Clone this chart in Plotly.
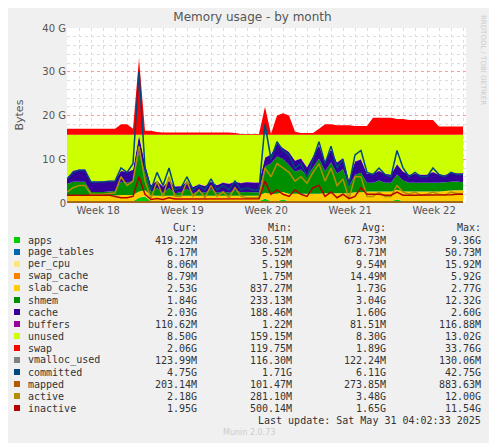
import plotly.graph_objects as go

# days since start of the month window, one sample every half day
days = [i * 0.5 for i in range(67)]

# stacked areas, values in GB
apps = [0.4, 0.4, 0.4, 0.4, 0.4, 0.4, 0.4, 0.4, 0.4, 0.4, 0.4, 0.4, 1.2, 1.5, 0.4, 0.4, 0.4, 0.4, 0.4, 0.4,
        0.4, 0.4, 0.4, 0.4, 0.4, 0.4, 0.4, 0.4, 0.4, 0.4, 0.4, 0.4, 0.4, 1.0, 0.4, 0.4, 0.8, 0.4, 0.4, 0.4,
        0.4, 0.4, 0.4, 0.4, 0.4, 0.4, 0.4, 0.4, 0.4, 0.4, 0.4, 0.4, 0.4, 0.4, 0.4, 0.8, 0.4, 0.4, 0.4, 0.4,
        0.4, 0.4, 0.4, 0.4, 0.4, 0.4, 0.4]
page_tables = [0.01] * 67
per_cpu = [0.01] * 67
swap_cache = [0.02] * 67
slab_cache = [1.4, 1.4, 1.4, 1.4, 1.3, 1.3, 1.3, 1.3, 1.3, 1.4, 1.4, 1.4, 1.4, 1.4, 1.3, 1.2, 1.2, 1.2, 1.2, 1.2,
              1.2, 1.2, 1.2, 1.2, 1.2, 1.2, 1.2, 1.2, 1.2, 1.2, 1.2, 1.2, 1.2, 1.3, 1.6, 1.7, 1.7, 1.7, 1.7, 1.7,
              1.7, 1.7, 1.7, 1.8, 1.8, 1.8, 1.8, 1.8, 2.0, 2.0, 2.2, 2.2, 2.2, 2.2, 2.2, 2.2, 2.2, 2.2, 2.2, 2.2,
              2.2, 2.2, 2.2, 2.3, 2.4, 2.5, 2.5]
shmem = [2.5, 3.0, 3.0, 3.0, 0.8, 0.8, 0.8, 0.9, 1.0, 3.0, 2.8, 3.2, 9.0, 4.0, 0.8, 1.8, 0.6, 1.8, 0.6, 0.8,
         1.6, 0.6, 1.0, 0.7, 1.5, 0.7, 1.0, 0.7, 1.2, 0.8, 0.9, 0.8, 0.8, 6.0, 7.0, 8.5, 7.5, 6.5, 5.0, 5.5,
         4.0, 6.0, 8.0, 5.0, 7.0, 4.5, 5.5, 1.5, 4.0, 4.5, 2.0, 2.0, 2.5, 2.0, 2.0, 3.5, 2.5, 2.0, 2.0, 2.0,
         2.0, 2.0, 2.0, 2.0, 2.0, 2.0, 1.8]
cache = [1.2, 2.5, 2.8, 2.8, 2.3, 2.3, 2.4, 2.4, 2.3, 2.5, 2.4, 2.5, 3.8, 2.0, 1.5, 1.6, 1.5, 1.6, 1.5, 1.4,
         1.6, 1.4, 1.6, 1.5, 1.7, 1.7, 2.0, 2.0, 2.0, 2.1, 2.2, 2.2, 2.2, 2.0, 2.0, 3.0, 2.5, 3.0, 2.5, 2.5,
         2.0, 2.5, 3.0, 2.2, 3.0, 2.5, 2.5, 1.5, 3.0, 3.0, 2.0, 2.0, 2.2, 2.0, 1.8, 2.3, 2.0, 1.8, 2.0, 1.8,
         1.8, 2.4, 1.8, 1.6, 2.0, 1.8, 2.0]
buffers = [0.1] * 67
unused = [9.96, 8.16, 7.86, 7.86, 10.66, 10.66, 10.56, 10.46, 10.46, 8.16, 8.46, 7.96, 0.06, 6.56, 11.46,
          10.46, 11.76, 10.46, 11.76, 11.66, 10.66, 11.86, 11.26, 11.66, 10.66, 11.46, 10.86, 11.16, 10.66,
          10.96, 10.76, 10.86, 10.86, 5.16, 4.46, 1.86, 2.96, 3.86, 5.86, 5.36, 7.36, 4.86, 2.36, 6.06, 3.26,
          6.26, 5.26, 10.26, 6.06, 5.56, 8.86, 8.86, 8.16, 8.86, 9.06, 6.66, 8.36, 9.06, 8.86, 9.06, 9.06,
          8.46, 9.06, 9.16, 8.66, 8.76, 8.76]
swap = [1.4, 1.4, 1.4, 1.4, 1.4, 1.4, 1.4, 1.4, 1.4, 2.4, 2.4, 1.4, 17.4, 0.9, 0.9, 0.6, 0.5, 0.5, 0.5, 0.5,
        0.5, 0.5, 0.5, 0.5, 0.5, 0.5, 0.5, 0.5, 0.4, 0.2, 0.2, 0.2, 0.2, 6.4, 0.2, 4.4, 4.9, 4.4, 0.7, 0.4,
        0.4, 0.4, 1.4, 2.4, 2.4, 2.2, 2.2, 2.2, 2.0, 2.0, 2.0, 3.9, 3.9, 3.9, 3.9, 3.6, 3.6, 3.4, 3.4, 3.4,
        3.4, 3.4, 1.9, 1.9, 1.9, 1.9, 1.9]

# lines, values in GB
vmalloc_used = [0.12] * 67
committed = [5.5, 7.0, 7.5, 7.5, 4.8, 4.8, 4.8, 5.0, 5.0, 8.0, 7.0, 9.0, 30.0, 8.0, 3.0, 7.0, 4.0, 8.0, 3.0, 3.5,
             6.0, 3.0, 4.0, 3.0, 5.5, 3.0, 4.0, 3.0, 5.0, 3.0, 3.5, 3.0, 3.0, 18.0, 10.0, 14.0, 12.0, 11.0, 8.0,
             9.0, 6.0, 10.0, 14.0, 9.0, 13.0, 8.0, 10.0, 4.0, 11.0, 12.0, 7.0, 6.5, 8.0, 6.5, 6.0, 12.0, 8.0,
             6.0, 7.0, 6.0, 6.0, 8.0, 6.5, 6.0, 7.0, 6.5, 6.5]
mapped = [0.25] * 67
active = [2.5, 3.5, 4.0, 4.0, 2.0, 2.0, 2.0, 2.2, 2.3, 6.0, 4.0, 5.0, 13.0, 5.0, 1.0, 5.0, 1.5, 6.0, 1.5, 1.5,
          5.0, 1.5, 3.0, 1.2, 4.0, 1.5, 2.5, 1.2, 3.5, 1.5, 1.2, 1.2, 1.2, 8.0, 6.0, 9.0, 8.0, 7.0, 5.0, 6.0,
          4.5, 7.0, 9.0, 5.0, 8.0, 4.0, 5.5, 1.0, 6.0, 6.0, 1.5, 1.5, 2.5, 1.5, 1.5, 4.0, 2.5, 2.0, 2.5, 1.8,
          2.0, 2.5, 2.0, 1.8, 2.5, 2.2, 2.2]
inactive = [1.8, 1.8, 1.8, 1.8, 1.8, 1.8, 1.8, 1.8, 1.5, 1.2, 1.2, 1.5, 6.0, 2.0, 0.8, 1.0, 0.8, 1.2, 0.9, 0.9,
            1.0, 0.9, 1.0, 0.9, 1.0, 0.9, 1.0, 0.9, 1.0, 1.0, 1.0, 1.0, 1.0, 5.0, 2.0, 3.0, 2.0, 1.5, 3.0, 2.0,
            1.5, 3.5, 4.0, 1.5, 2.5, 1.2, 2.0, 1.0, 1.5, 3.5, 2.0, 2.0, 2.0, 1.8, 1.8, 2.5, 1.8, 1.8, 1.8, 1.8,
            1.8, 1.8, 1.9, 1.9, 1.9, 2.0, 2.0]

week_pos = [2.6, 9.6, 16.6, 23.6, 30.6]
week_labels = ['Week 18', 'Week 19', 'Week 20', 'Week 21', 'Week 22']

# legend table
names = ['apps', 'page_tables', 'per_cpu', 'swap_cache', 'slab_cache', 'shmem', 'cache', 'buffers',
         'unused', 'swap', 'vmalloc_used', 'committed', 'mapped', 'active', 'inactive']
cur = ['419.22M', '6.17M', '8.06M', '8.79M', '2.53G', '1.84G', '2.03G', '110.62M', '8.50G', '2.06G',
       '123.99M', '4.75G', '203.14M', '2.18G', '1.95G']
mins = ['330.51M', '5.52M', '5.19M', '1.75M', '837.27M', '233.13M', '188.46M', '1.22M', '159.15M',
        '119.75M', '116.30M', '1.71G', '101.47M', '281.10M', '500.14M']
avgs = ['673.73M', '8.71M', '9.54M', '14.49M', '1.73G', '3.04G', '1.60G', '81.51M', '8.30G', '1.89G',
        '122.24M', '6.11G', '273.85M', '3.48G', '1.65G']
maxs = ['9.36G', '50.73M', '15.92M', '5.92G', '2.77G', '12.32G', '2.60G', '116.88M', '13.02G', '33.76G',
        '130.06M', '42.75G', '883.63M', '12.00G', '11.54G']
colors = ['#00CC00', '#0066B3', '#FFE680', '#FF8000', '#FFCC00', '#008F00', '#330099', '#990099',
          '#CCFF00', '#FF0000', '#808080', '#00487D', '#B35A00', '#B38F00', '#B30000']

fig = go.Figure()

areas = [apps, page_tables, per_cpu, swap_cache, slab_cache, shmem, cache, buffers, unused, swap]
for k, vals in enumerate(areas):
    fig.add_trace(go.Scatter(x=days, y=vals, stackgroup='one', mode='none',
                             fillcolor=colors[k], line=dict(width=0), showlegend=False))

lines = [vmalloc_used, committed, mapped, active, inactive]
for k, vals in enumerate(lines):
    fig.add_trace(go.Scatter(x=days, y=vals, mode='lines', showlegend=False,
                             line=dict(color=colors[10 + k], width=1.5)))

# the page body has an 8px margin, so the figure starts at (8, 8) of the window
OFF = 8
W, H = 497 - OFF, 443 - OFF
L, R, T, B = 67, 466, 28, 203  # plot area in window pixels


def px(x):
    return (x - L) / (R - L)


def py(y):
    return (B - y) / (B - T)


mono = dict(family='DejaVu Sans Mono', size=10, color='#333')
ann = []
for txt, xr in [('Cur:', 199), ('Min:', 294), ('Avg:', 388), ('Max:', 483)]:
    ann.append(dict(x=px(xr), y=py(227), text=txt, xanchor='right', font=mono))
shapes = []
for i, n in enumerate(names):
    yy = 240 + i * 12
    shapes.append(dict(type='rect', xref='paper', yref='paper', x0=px(14), x1=px(20),
                       y0=py(yy + 3), y1=py(yy - 3), fillcolor=colors[i], line=dict(width=0)))
    ann.append(dict(x=px(26), y=py(yy), text=n, xanchor='left', font=mono))
    for col, xr in [(cur, 199), (mins, 294), (avgs, 388), (maxs, 483)]:
        ann.append(dict(x=px(xr), y=py(yy), text=col[i], xanchor='right', font=mono))
ann.append(dict(x=px(483), y=py(420), text='Last update: Sat May 31 04:02:33 2025',
                xanchor='right', font=mono))
ann.append(dict(x=px(249), y=py(432), text='Munin 2.0.73', xanchor='center',
                font=dict(family='DejaVu Sans', size=8, color='#ccc')))
ann.append(dict(x=px(10), y=py(115), text='Bytes', textangle=-90,
                font=dict(family='DejaVu Sans', size=11, color='#555')))
ann.append(dict(x=px(489), y=py(60), text='RRDTOOL / TOBI OETIKER', textangle=90,
                font=dict(family='DejaVu Sans', size=7, color='#ccc')))
for a in ann:
    a.update(xref='paper', yref='paper', showarrow=False, yanchor='middle')

fig.update_layout(
    width=W, height=H,
    margin=dict(l=L - OFF, r=497 - R, t=T - OFF, b=443 - B),
    paper_bgcolor='#F0F0F0', plot_bgcolor='white',
    title=dict(text='Memory usage - by month', x=0.5, y=1 - (17 - OFF) / H, xanchor='center',
               yanchor='middle', font=dict(family='DejaVu Sans', size=12, color='#555')),
    annotations=ann, shapes=shapes,
)
fig.update_xaxes(range=[0, 33.25], tickvals=week_pos, ticktext=week_labels, showgrid=False,
                 tickfont=dict(family='DejaVu Sans', size=10, color='#555'), ticks='',
                 minor=dict(dtick=1, tick0=0, showgrid=True, gridcolor='#ddd', griddash='dot'),
                 showline=False, zeroline=False)
fig.update_yaxes(range=[0, 40], tickvals=[0, 10, 20, 30, 40], ticktext=['0', '10 G', '20 G', '30 G', '40 G'],
                 gridcolor='#f2a0a0', griddash='dot', gridwidth=1,
                 tickfont=dict(family='DejaVu Sans', size=10, color='#555'),
                 minor=dict(dtick=2, showgrid=True, gridcolor='#ddd', griddash='dot'),
                 zeroline=False)

fig.write_html("out.html")
